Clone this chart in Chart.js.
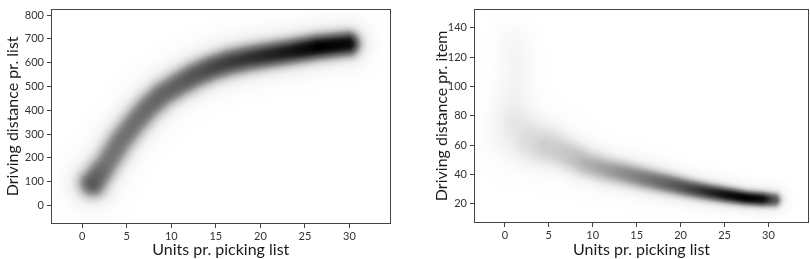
<!DOCTYPE html>
<html>
<head>
<meta charset="utf-8">
<script src="https://cdn.jsdelivr.net/npm/chart.js@4.4.1/dist/chart.umd.min.js"></script>
<style>
body { margin: 0; background: #fff; }
#wrap { position: relative; width: 810px; height: 259px; }
canvas { position: absolute; top: 0; }
#left { left: 0; }
#right { left: 405px; }
</style>
</head>
<body>
<div id="wrap">
    <canvas id="left" width="400" height="259"></canvas>
    <canvas id="right" width="405" height="259"></canvas>
</div>
<script>
// ticks
const xTicks = [0, 5, 10, 15, 20, 25, 30];
const leftYTicks = [0, 100, 200, 300, 400, 500, 600, 700, 800];
const rightYTicks = [20, 40, 60, 80, 100, 120, 140];

// left panel: ridge of the density (distance per list)
const leftX = [1.2, 2.8, 4.4, 6, 7.4, 9, 10.8, 12.6, 14.5, 16.5, 18.6, 21, 23.1, 26.5, 29.8];
const leftY = [95, 180, 275, 352, 412, 466, 508, 546, 577, 601, 618, 633, 645, 666, 679];
const leftWeight = [0.72, 0.62, 0.63, 0.64, 0.66, 0.68, 0.7, 0.74, 0.78, 0.81, 0.84, 0.88, 0.92, 1.0, 0.97];
const leftSpread = [50, 48, 48, 48, 48, 48, 48, 48, 47, 47, 46, 45, 44, 43, 42];

// right panel: ridge of the density (distance per item)
const rightX = [1.5, 3, 5, 7, 9.3, 11.5, 13.9, 16.5, 18.8, 21, 23.4, 25.5, 27.5, 29.3, 30.6];
const rightY = [67, 63, 59, 54, 47.5, 43.5, 40.2, 36.5, 33.5, 30.5, 27.8, 25.8, 24, 23.2, 22.7];
const rightWeight = [0.12, 0.18, 0.27, 0.33, 0.41, 0.47, 0.54, 0.62, 0.7, 0.78, 0.88, 0.96, 1.0, 0.96, 0.75];
const rightSpread = [13, 11.5, 10, 8.5, 7.4, 6.9, 6.5, 6, 5.5, 5, 4.6, 4.3, 4, 4, 4];

// right panel: faint cloud at small lists
const cloudX = [1.0, 1.5, 1.0, 1.0, 3.0];
const cloudY = [130, 114, 96, 80, 62];
const cloudWeight = [0.06, 0.06, 0.07, 0.07, 0.06];
const cloudSpread = [9, 9, 9, 9, 10];

const greysStops = [255, 240, 217, 189, 150, 115, 82, 37, 0];

function greys(t) {
    const f = t * (greysStops.length - 1);
    const i = Math.min(greysStops.length - 2, Math.floor(f));
    const r = f - i;
    return Math.round(greysStops[i] + (greysStops[i + 1] - greysStops[i]) * r);
}

function toPoints(xs, ys) {
    return xs.map((v, i) => ({x: v, y: ys[i]}));
}

// flat-topped band with a soft tail
function profile(d, s) {
    const r = d / s;
    return 0.78 * Math.exp(-0.5 * Math.pow(r, 2.5)) + 0.22 * Math.exp(-0.5 * (r / 1.5) * (r / 1.5));
}

const densityPlugin = {
    id: 'density',
    beforeDatasetsDraw(chart) {
        const a = chart.chartArea;
        const sx = chart.scales.x, sy = chart.scales.y;
        const w = Math.round(a.right - a.left), h = Math.round(a.bottom - a.top);

        const conv = (ds) => ds.data.map((p, i) => ({
            px: sx.getPixelForValue(p.x) - a.left,
            py: sy.getPixelForValue(p.y) - a.top,
            s: Math.abs(sy.getPixelForValue(p.y) - sy.getPixelForValue(p.y + ds.spread[i])),
            w: ds.weight[i]
        }));
        let ridge = [], clouds = [];
        chart.data.datasets.forEach(ds => {
            if (ds.kind === 'ridge') ridge = conv(ds);
            else clouds = clouds.concat(conv(ds));
        });

        const off = document.createElement('canvas');
        off.width = w;
        off.height = h;
        const octx = off.getContext('2d');
        const img = octx.createImageData(w, h);
        for (let j = 0; j < h; j++) {
            for (let i = 0; i < w; i++) {
                const qx = i + 0.5, qy = j + 0.5;
                let d = 0;
                for (let k = 0; k < ridge.length - 1; k++) {
                    const p = ridge[k], q = ridge[k + 1];
                    const dx = q.px - p.px, dy = q.py - p.py;
                    let t = ((qx - p.px) * dx + (qy - p.py) * dy) / (dx * dx + dy * dy);
                    t = Math.max(0, Math.min(1, t));
                    const ex = p.px + t * dx - qx, ey = p.py + t * dy - qy;
                    const s = p.s + t * (q.s - p.s);
                    const wt = p.w + t * (q.w - p.w);
                    const v = wt * profile(Math.sqrt(ex * ex + ey * ey), s);
                    if (v > d) d = v;
                }
                for (const c of clouds) {
                    const ex = c.px - qx, ey = c.py - qy;
                    d += c.w * Math.exp(-(ex * ex + ey * ey) / (2 * c.s * c.s));
                }
                const g = greys(Math.min(1, d));
                const o = (j * w + i) * 4;
                img.data[o] = img.data[o + 1] = img.data[o + 2] = g;
                img.data[o + 3] = 255;
            }
        }
        octx.putImageData(img, 0, 0);
        chart.ctx.drawImage(off, a.left, a.top);
    },
    afterDatasetsDraw(chart) {
        const a = chart.chartArea;
        const ctx = chart.ctx;
        ctx.save();
        ctx.strokeStyle = '#444';
        ctx.lineWidth = 1;
        ctx.strokeRect(Math.round(a.left) - 0.5, Math.round(a.top) - 0.5,
            Math.round(a.right - a.left) + 1, Math.round(a.bottom - a.top) + 1);
        ctx.restore();
    }
};

function makeOptions(yMin, yMax, yTicks, yTitle, yWidth, pad) {
    const tickFont = {family: 'Lato', size: 11};
    const titleFont = {family: 'Lato', size: 16};
    return {
        responsive: false,
        animation: false,
        devicePixelRatio: 1,
        layout: {padding: pad},
        plugins: {legend: {display: false}, tooltip: {enabled: false}},
        scales: {
            x: {
                type: 'linear',
                min: -3.4,
                max: 34.5,
                afterBuildTicks: s => { s.ticks = xTicks.map(v => ({value: v})); },
                afterFit: s => { s.height = pad.xHeight; },
                grid: {drawOnChartArea: false, tickLength: 5, color: '#444'},
                border: {display: false},
                ticks: {font: tickFont, color: '#333', padding: 2, maxRotation: 0, autoSkip: false},
                title: {display: true, text: 'Units pr. picking list', font: titleFont, color: '#1a1a1a', padding: 0}
            },
            y: {
                type: 'linear',
                min: yMin,
                max: yMax,
                afterBuildTicks: s => { s.ticks = yTicks.map(v => ({value: v})); },
                afterFit: s => { s.width = yWidth; },
                grid: {drawOnChartArea: false, tickLength: 5, color: '#444'},
                border: {display: false},
                ticks: {font: tickFont, color: '#333', padding: 3, autoSkip: false},
                title: {display: true, text: yTitle, font: titleFont, color: '#1a1a1a', padding: {top: 3, bottom: 0}}
            }
        }
    };
}

new Chart(document.getElementById('left').getContext('2d'), {
    type: 'scatter',
    data: {
        datasets: [{
            kind: 'ridge',
            data: toPoints(leftX, leftY),
            weight: leftWeight,
            spread: leftSpread,
            pointRadius: 0
        }]
    },
    options: makeOptions(-74, 823, leftYTicks, 'Driving distance pr. list', 52,
        {left: 0, right: 10.5, top: 5, bottom: 0, xHeight: 36}),
    plugins: [densityPlugin]
});

new Chart(document.getElementById('right').getContext('2d'), {
    type: 'scatter',
    data: {
        datasets: [{
            kind: 'ridge',
            data: toPoints(rightX, rightY),
            weight: rightWeight,
            spread: rightSpread,
            pointRadius: 0
        }, {
            kind: 'cloud',
            data: toPoints(cloudX, cloudY),
            weight: cloudWeight,
            spread: cloudSpread,
            pointRadius: 0
        }]
    },
    options: makeOptions(7.6, 152.3, rightYTicks, 'Driving distance pr. item', 46,
        {left: 24, right: 2, top: 7, bottom: 0, xHeight: 37}),
    plugins: [densityPlugin]
});
</script>
</body>
</html>
